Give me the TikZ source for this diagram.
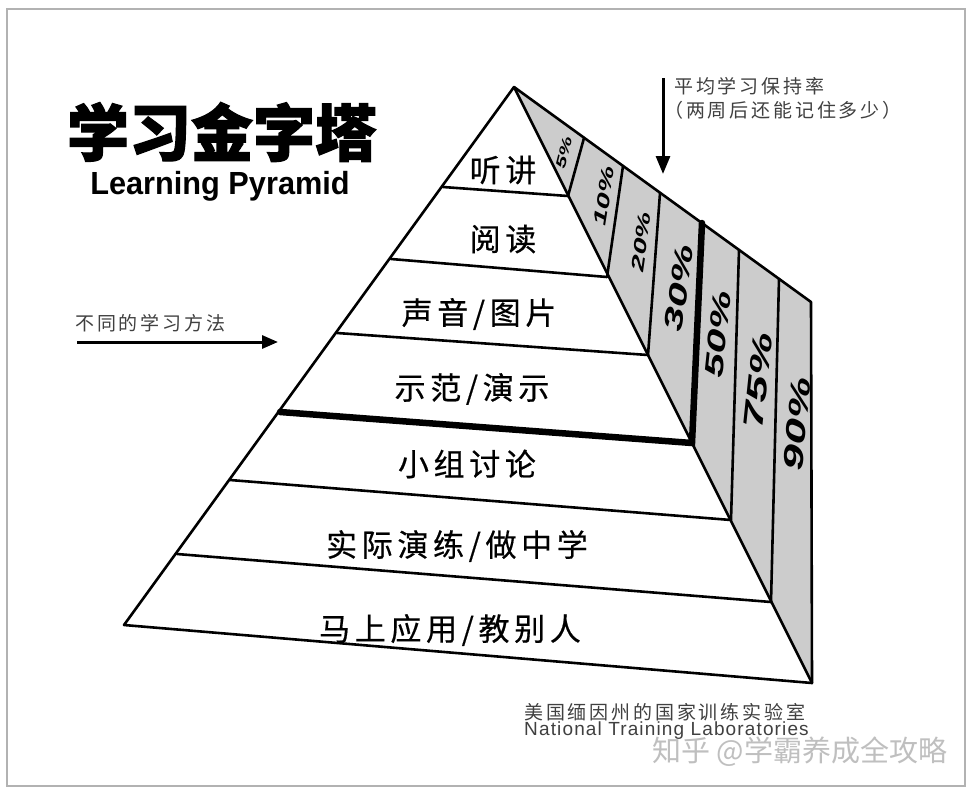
\documentclass[tikz,border=0pt]{standalone}
\usepackage{fontspec}
\setmainfont{Liberation Sans}
\setsansfont{Liberation Sans}
\newfontfamily\cjk{Noto Sans CJK SC}
\newfontfamily\cjksp{Noto Sans CJK SC}[LetterSpace=15,FakeBold=0.5]
\newfontfamily\cjknote{Noto Sans CJK SC}[LetterSpace=15]
\newfontfamily\cjkheavy{Noto Sans CJK SC}[FakeBold=2]
\newfontfamily\latinsp{Liberation Sans}[LetterSpace=6]
\usetikzlibrary{arrows.meta}
\begin{document}
\begin{tikzpicture}[x=1pt,y=-1pt,
  edge/.style={line width=2.6pt,line join=round,line cap=round},
  heavyedge/.style={line width=6.5pt,line cap=round},
  lab/.style={font=\cjksp\fontsize{31}{31}\selectfont,inner sep=0pt},
  pct/.style={inner sep=0pt},
  note/.style={font=\cjknote\fontsize{19}{21}\selectfont,text=black!75,inner sep=0pt,anchor=west},
  arr/.style={line width=3pt,-{Triangle[length=18pt,width=14pt]}}]
\useasboundingbox (0,0) rectangle (972,793);
\fill[white] (0,0) rectangle (972,793);
\draw[black!30,line width=1.5pt] (7,9) rectangle (965,786);
% key points
\coordinate (A) at (514,87);
\coordinate (BL) at (124,625);
\coordinate (BR) at (812,683);
\coordinate (TR) at (811,302);
\coordinate (l1) at (443,187); \coordinate (r1) at (568,196); \coordinate (t1) at (584,138);
\coordinate (l2) at (391,259); \coordinate (r2) at (607,277); \coordinate (t2) at (623,166);
\coordinate (l3) at (337,333); \coordinate (r3) at (648,355); \coordinate (t3) at (660,193);
\coordinate (l4) at (280,412); \coordinate (r4) at (692,443); \coordinate (t4) at (702,223);
\coordinate (l5) at (230,480); \coordinate (r5) at (731,520); \coordinate (t5) at (739,250);
\coordinate (l6) at (177,554); \coordinate (r6) at (771,602); \coordinate (t6) at (779,279);
% side panel
\fill[black!20] (A) -- (TR) -- (BR) -- cycle;
% dividers
\draw[edge] (r1) -- (t1);
\draw[edge] (r2) -- (t2);
\draw[edge] (r3) -- (t3);
\draw[edge] (r5) -- (t5);
\draw[edge] (r6) -- (t6);
\draw[edge] (l1) -- (r1);
\draw[edge] (l2) -- (r2);
\draw[edge] (l3) -- (r3);
\draw[edge] (l5) -- (r5);
\draw[edge] (l6) -- (r6);
\draw[heavyedge] (l4) -- (r4) -- (t4);
% outline
\draw[edge] (A) -- (BL) -- (BR) -- (TR) -- cycle;
\draw[edge] (A) -- (BR);
% front labels
\node[lab] (n1) at (503,170) {听讲};
\node[lab] (n2) at (503,239) {阅读};
\node[lab] (n3) at (479,314) {声音/图片};
\node[lab] (n4) at (472,389) {示范/演示};
\node[lab] (n5) at (467,464) {小组讨论};
\node[lab] (n6) at (457,546) {实际演练/做中学};
\node[lab] (n7) at (450,630) {马上应用/教别人};
% percentages
\node[pct,rotate=76,xscale=1.6,font=\sffamily\bfseries\itshape\fontsize{14}{14}\selectfont] (p1) at (564,153) {5\%};
\node[pct,rotate=81,xscale=1.65,font=\sffamily\bfseries\itshape\fontsize{18}{18}\selectfont] (p2) at (604,196) {10\%};
\node[pct,rotate=82,xscale=1.65,font=\sffamily\bfseries\itshape\fontsize{18}{18}\selectfont] (p3) at (641,242) {20\%};
\node[pct,rotate=82,xscale=1.67,font=\sffamily\bfseries\itshape\fontsize{26}{26}\selectfont] (p4) at (679,288) {30\%};
\node[pct,rotate=84,xscale=1.67,font=\sffamily\bfseries\itshape\fontsize{26}{26}\selectfont] (p5) at (718,334) {50\%};
\node[pct,rotate=84,xscale=1.72,font=\sffamily\bfseries\itshape\fontsize{28}{28}\selectfont] (p6) at (758,381) {75\%};
\node[pct,rotate=85,xscale=1.66,font=\sffamily\bfseries\itshape\fontsize{28}{28}\selectfont] (p7) at (797,424) {90\%};
% title
\node[font=\cjkheavy\bfseries\fontsize{62}{62}\selectfont,inner sep=0pt] (title) at (222,132) {学习金字塔};
\node[font=\sffamily\bfseries\fontsize{32}{32}\selectfont,inner sep=0pt,xscale=0.96] (subtitle) at (220,186) {Learning Pyramid};
% retention note and arrow
\node[note] (rn1) at (674,86) {平均学习保持率};
\node[note] (rn2) at (664,110) {（两周后还能记住多少）};
\coordinate (da1) at (663,78);
\coordinate (da2) at (663,174);
\draw[arr] (da1) -- (da2);
% methods note and arrow
\node[note] (mn) at (75,323) {不同的学习方法};
\coordinate (ma1) at (77,342);
\coordinate (ma2) at (278,342);
\draw[arr,-{Triangle[length=16pt,width=13pt]}] (ma1) -- (ma2);
% source
\node[note] (src1) at (524,712) {美国缅因州的国家训练实验室};
\node[font=\latinsp\fontsize{19}{19}\selectfont,text=black!75,inner sep=0pt,anchor=west] (src2) at (524,731) {National Training Laboratories};
% watermark
\node[font=\cjk\fontsize{29}{29}\selectfont,text=black!25,inner sep=0pt,anchor=west] (wm) at (652,752) {知乎 @学霸养成全攻略};
\end{tikzpicture}
\end{document}
